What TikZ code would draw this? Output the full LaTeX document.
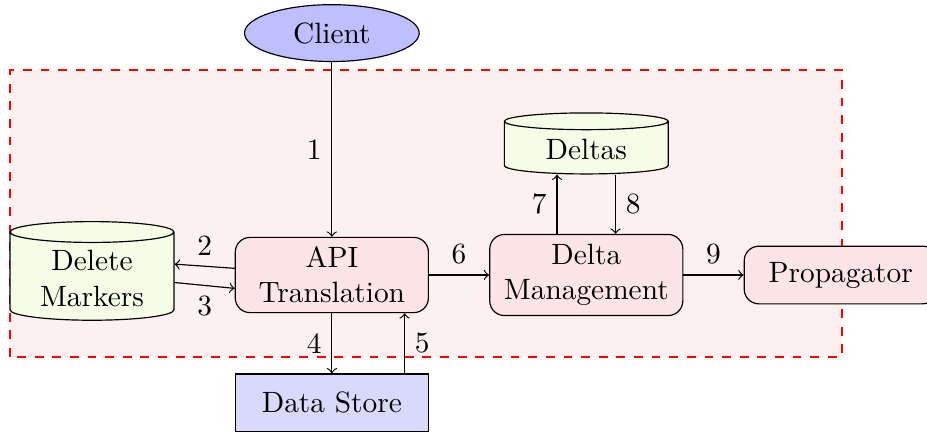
\documentclass[tikz,border=0pt]{standalone}
\usepackage{xcolor}
\definecolor{zonefill}{HTML}{FDF0F1}
\definecolor{procfill}{HTML}{FDE5E7}
\definecolor{storefill}{HTML}{F6FDE7}
\definecolor{clientfill}{HTML}{BFBFFF}
\definecolor{datafill}{HTML}{D9D9FB}
\usetikzlibrary{positioning,shapes.geometric,backgrounds}

\begin{document}
\begin{tikzpicture}[
  node distance=0.72cm,
  proc/.style={draw,fill=procfill,rounded corners=5pt,align=center,
               minimum width=2.31cm,minimum height=0.9cm,inner sep=2pt},
  store/.style={draw,fill=storefill,cylinder,shape border rotate=90,shape aspect=0.18,
                align=center,minimum width=1.96cm,inner sep=2pt},
  arr/.style={->}]
\useasboundingbox (-3.97,-1.88) rectangle (7.12,3.29);
\node[proc] (api) at (0,0) {API\\Translation};
\node[draw,fill=clientfill,ellipse,minimum width=2.09cm,minimum height=0.68cm,inner sep=0pt,
      above=2.09cm of api] (client) {Client};
\node[store,minimum height=1.18cm,left=of api,yshift=-0.04cm] (markers) {Delete\\Markers};
\node[proc,minimum height=0.97cm,right=of api] (dm) {Delta\\Management};
\node[store,minimum height=0.73cm,above=0.71cm of dm] (deltas) {Deltas};
\node[proc,minimum height=0.69cm,right=of dm] (prop) {Propagator};
\node[draw,fill=datafill,minimum width=2.31cm,minimum height=0.69cm,below=of api] (data) {Data Store};
\begin{scope}[on background layer]
\draw[red,thick,dashed,fill=zonefill] (-3.85,-0.98) rectangle (6.1,2.45);
\end{scope}
\draw[arr] (client) -- node[left] {1} (api);
\draw[arr] ([yshift=0.08cm]api.west) -- node[above] {2} ([yshift=0.17cm]markers.east);
\draw[arr] ([yshift=-0.05cm]markers.east) -- node[below] {3} ([yshift=-0.16cm]api.west);
\draw[arr] (api) -- node[left] {4} (data);
\draw[arr] ([xshift=0.87cm]data.north) -- node[right] {5} ([xshift=0.87cm]api.south);
\draw[arr] (api) -- node[above] {6} (dm);
\draw[arr] ([xshift=-0.35cm]dm.north) -- node[left] {7} ([xshift=-0.35cm]deltas.south);
\draw[arr] ([xshift=0.35cm]deltas.south) -- node[right] {8} ([xshift=0.35cm]dm.north);
\draw[arr] (dm) -- node[above] {9} (prop);
\end{tikzpicture}
\end{document}
